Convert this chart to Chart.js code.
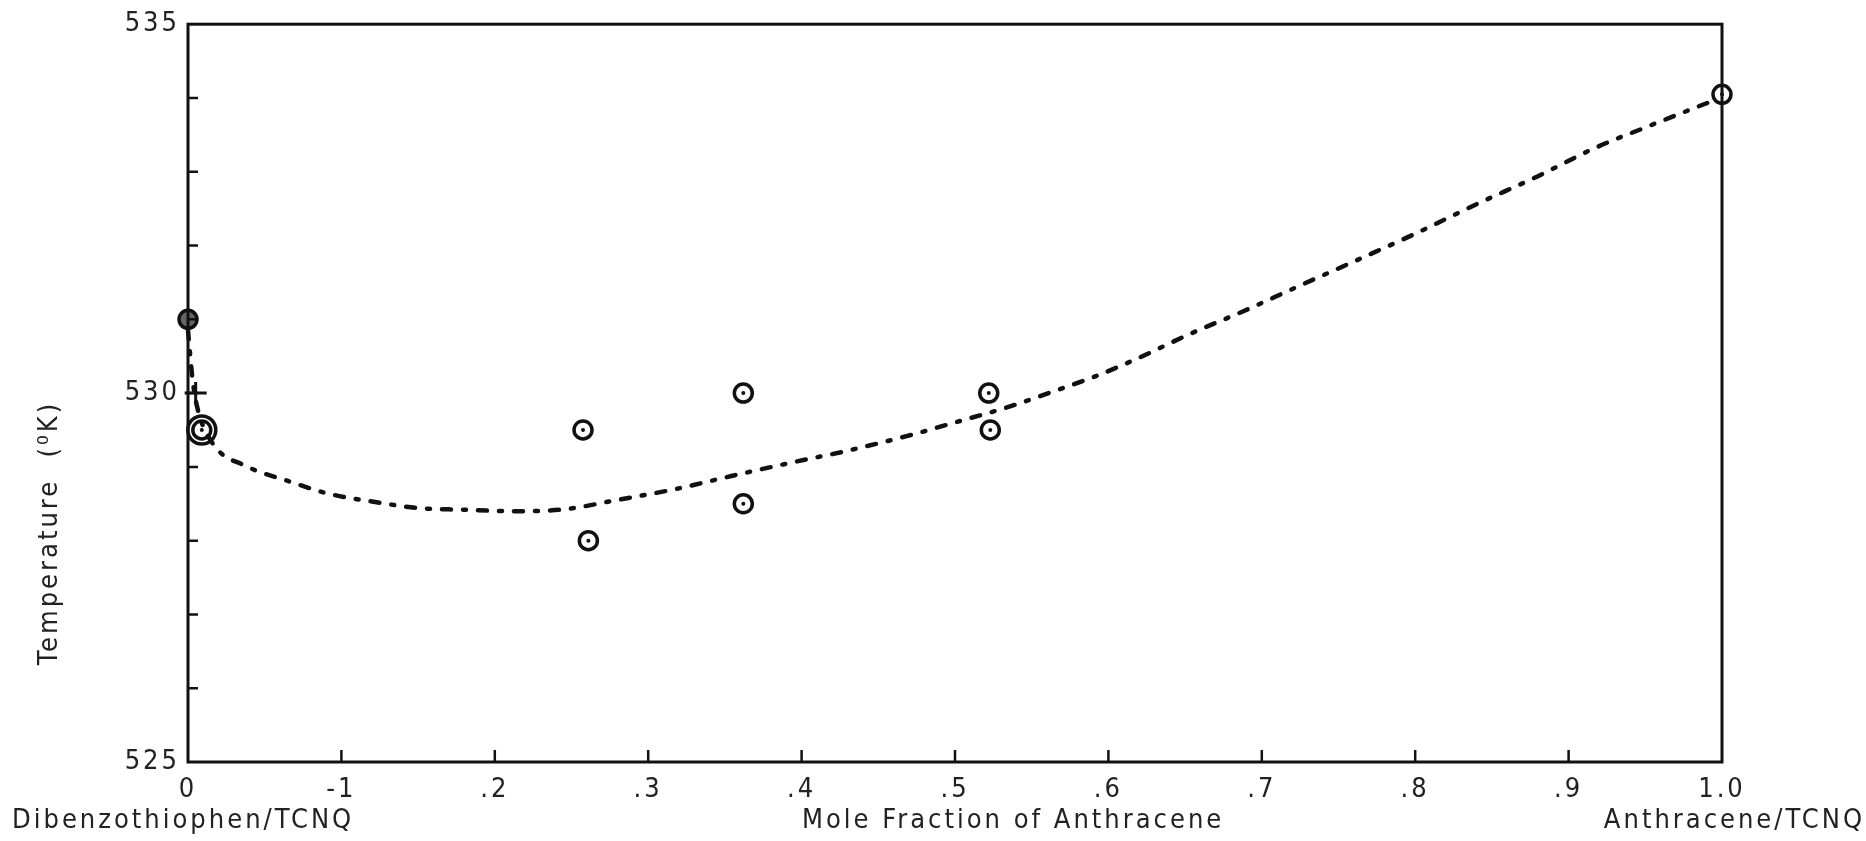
<!DOCTYPE html>
<html>
<head>
<meta charset="utf-8">
<script src="https://cdn.jsdelivr.net/npm/chart.js@4.4.1/dist/chart.umd.min.js"></script>
<style>
  html, body { margin: 0; padding: 0; background: #fff; }
  #wrap { width: 1866px; height: 841px; }
</style>
</head>
<body>
<div id="wrap"><canvas id="meltChart"></canvas></div>
<script>
// measured points (mole fraction of anthracene, temperature K)
const moleFraction = [0, 0.009, 0.2575, 0.261, 0.362, 0.362, 0.522, 0.523, 1.0];
const temperature = [531.0, 529.5, 529.5, 528.0, 530.0, 528.5, 530.0, 529.5, 534.05];

// the "+" mark near the left axis
const crossX = [0.005];
const crossY = [530.0];

// hand drawn dashed curve
const curveX = [0, 0.003, 0.006, 0.016, 0.038, 0.065, 0.091, 0.123, 0.151, 0.179, 0.212, 0.243, 0.282,
  0.318, 0.355, 0.396, 0.428, 0.469, 0.508, 0.533, 0.561, 0.593, 0.619, 0.653, 0.688, 0.723, 0.764,
  0.801, 0.840, 0.879, 0.918, 0.950, 0.984, 0.995];
const curveY = [530.85, 530.18, 529.81, 529.32, 529.01, 528.81, 528.64, 528.52, 528.44, 528.42, 528.40,
  528.42, 528.56, 528.70, 528.88, 529.07, 529.21, 529.42, 529.65, 529.80, 530.00, 530.24, 530.47, 530.80,
  531.11, 531.44, 531.82, 532.17, 532.56, 532.93, 533.33, 533.60, 533.88, 533.97];

// tick labels as printed on the original
const xTickLabels = ['0', '-1', '.2', '.3', '.4', '.5', '.6', '.7', '.8', '.9', '1.0'];
const yTickLabels = { 525: '525', 530: '530', 535: '535' };

const FONT = "'Liberation Sans Narrow', 'DejaVu Sans Condensed', 'Liberation Mono', monospace";

const pts = (xs, ys) => xs.map((x, i) => ({ x: x, y: ys[i] }));

// typewriter-like spacing for all text
const spacingPlugin = {
  id: 'spacing',
  beforeDraw(chart) {
    chart.ctx.letterSpacing = '3px';
  }
};

// frame, inward ticks and the loose texts
const framePlugin = {
  id: 'frame',
  afterDraw(chart) {
    const { ctx, chartArea: a, scales } = chart;
    const xs = scales.x, ys = scales.y;
    ctx.save();
    ctx.strokeStyle = '#111';
    ctx.lineWidth = 3;
    ctx.strokeRect(a.left, a.top, a.right - a.left, a.bottom - a.top);

    ctx.lineWidth = 2.5;
    ctx.beginPath();
    ys.ticks.forEach(t => {
      if (t.value <= 525 || t.value >= 535) return;
      const py = ys.getPixelForValue(t.value);
      ctx.moveTo(a.left, py);
      ctx.lineTo(a.left + 10, py);
    });
    xs.ticks.forEach(t => {
      if (t.value <= 0.001 || t.value >= 0.999) return;
      const px = xs.getPixelForValue(t.value);
      ctx.moveTo(px, a.bottom);
      ctx.lineTo(px, a.bottom - 12);
    });
    ctx.stroke();

    ctx.fillStyle = '#222';
    ctx.font = '27px ' + FONT;
    ctx.letterSpacing = '3px';
    ctx.textBaseline = 'middle';
    ctx.textAlign = 'left';
    ctx.fillText('Dibenzothiophen/TCNQ', 12, 821);
    ctx.fillText('Mole Fraction of Anthracene', 802, 821);
    ctx.textAlign = 'right';
    ctx.fillText('Anthracene/TCNQ', 1865, 821);

    ctx.translate(50, 533);
    ctx.rotate(-Math.PI / 2);
    ctx.textAlign = 'center';
    ctx.fillText('Temperature  (\u2070K)', 0, 0);
    ctx.restore();
  }
};

new Chart(document.getElementById('meltChart'), {
  type: 'scatter',
  data: {
    datasets: [
      {
        label: 'curve',
        data: pts(curveX, curveY),
        showLine: true,
        borderColor: '#111',
        borderWidth: 4.5,
        borderDash: [9, 12, 3, 12],
        borderCapStyle: 'round',
        cubicInterpolationMode: 'monotone',
        pointRadius: 0,
        clip: false
      },
      {
        label: 'points',
        data: pts(moleFraction, temperature),
        pointRadius: 9,
        borderWidth: 3.5,
        borderColor: '#111',
        backgroundColor: c => c.dataIndex === 0 ? '#666' : 'rgba(0,0,0,0)',
        clip: false
      },
      {
        label: 'outer ring',
        data: pts(moleFraction, temperature),
        pointRadius: c => c.dataIndex === 1 ? 14 : 0,
        borderWidth: 3.5,
        borderColor: '#111',
        backgroundColor: 'rgba(0,0,0,0)',
        clip: false
      },
      {
        label: 'centres',
        data: pts(moleFraction, temperature),
        pointRadius: 2,
        borderWidth: 0,
        backgroundColor: '#111',
        clip: false
      },
      {
        label: 'cross',
        data: pts(crossX, crossY),
        pointStyle: 'cross',
        pointRadius: 11,
        borderWidth: 3,
        borderColor: '#111',
        clip: false
      }
    ]
  },
  options: {
    responsive: true,
    maintainAspectRatio: false,
    animation: false,
    devicePixelRatio: 1,
    layout: { padding: { left: 0, right: 144, top: 24, bottom: 0 } },
    plugins: { legend: { display: false }, tooltip: { enabled: false } },
    scales: {
      x: {
        type: 'linear',
        min: 0,
        max: 1,
        afterFit: s => { s.height = 79; },
        border: { display: false },
        grid: { drawOnChartArea: false, drawTicks: false },
        ticks: {
          stepSize: 0.1,
          padding: 12,
          color: '#222',
          font: { family: FONT, size: 27 },
          maxRotation: 0,
          autoSkip: false,
          callback: (v, i) => xTickLabels[i]
        }
      },
      y: {
        type: 'linear',
        min: 525,
        max: 535,
        afterFit: s => { s.width = 188; },
        border: { display: false },
        grid: { drawOnChartArea: false, drawTicks: false },
        ticks: {
          stepSize: 1,
          padding: 8,
          color: '#222',
          font: { family: FONT, size: 27 },
          autoSkip: false,
          callback: v => yTickLabels[v] || ''
        }
      }
    }
  },
  plugins: [spacingPlugin, framePlugin]
});
</script>
</body>
</html>
